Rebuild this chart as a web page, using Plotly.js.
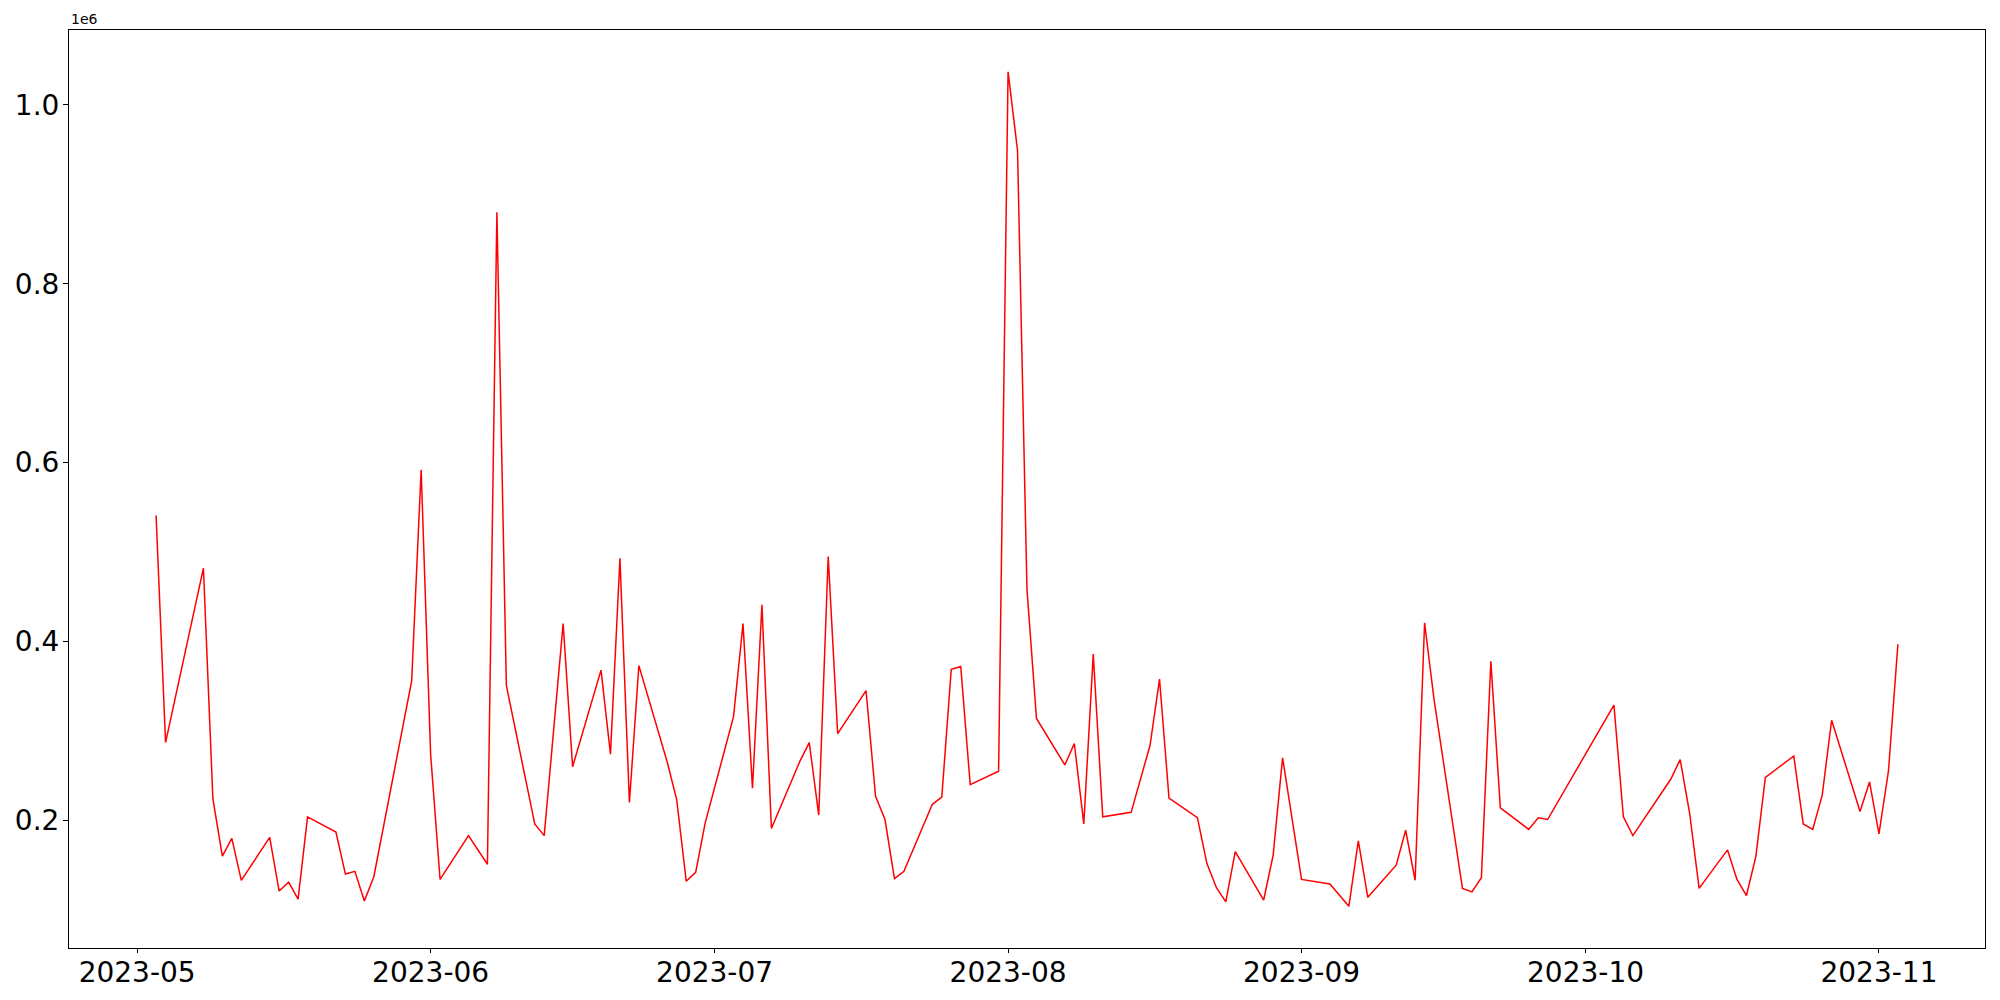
<!DOCTYPE html>
<html>
<head>
<meta charset="utf-8">
<script src="https://cdn.plot.ly/plotly-3.0.1.min.js"></script>
<style>
  html, body { margin: 0; padding: 0; background: #ffffff; }
  #chart { width: 2000px; height: 1000px; }
</style>
</head>
<body>
<div id="chart"></div>
<script>
const dates = [
  '2023-05-03','2023-05-04','2023-05-08','2023-05-09','2023-05-10','2023-05-11','2023-05-12',
  '2023-05-15','2023-05-16','2023-05-17','2023-05-18','2023-05-19',
  '2023-05-22','2023-05-23','2023-05-24','2023-05-25','2023-05-26',
  '2023-05-30','2023-05-31','2023-06-01','2023-06-02',
  '2023-06-05','2023-06-07','2023-06-08','2023-06-09',
  '2023-06-12','2023-06-13','2023-06-15','2023-06-16',
  '2023-06-19','2023-06-20','2023-06-21','2023-06-22','2023-06-23',
  '2023-06-26','2023-06-27','2023-06-28','2023-06-29','2023-06-30',
  '2023-07-03','2023-07-04','2023-07-05','2023-07-06','2023-07-07',
  '2023-07-10','2023-07-11','2023-07-12','2023-07-13','2023-07-14',
  '2023-07-17','2023-07-18','2023-07-19','2023-07-20','2023-07-21',
  '2023-07-24','2023-07-25','2023-07-26','2023-07-27','2023-07-28',
  '2023-07-31','2023-08-01','2023-08-02','2023-08-03','2023-08-04',
  '2023-08-07','2023-08-08','2023-08-09','2023-08-10','2023-08-11',
  '2023-08-14','2023-08-16','2023-08-17','2023-08-18',
  '2023-08-21','2023-08-22','2023-08-23','2023-08-24','2023-08-25',
  '2023-08-28','2023-08-29','2023-08-30','2023-09-01',
  '2023-09-04','2023-09-05','2023-09-06','2023-09-07','2023-09-08',
  '2023-09-11','2023-09-12','2023-09-13','2023-09-14','2023-09-15',
  '2023-09-18','2023-09-19','2023-09-20','2023-09-21','2023-09-22',
  '2023-09-25','2023-09-26','2023-09-27',
  '2023-10-04','2023-10-05','2023-10-06',
  '2023-10-10','2023-10-11','2023-10-12','2023-10-13',
  '2023-10-16','2023-10-17','2023-10-18','2023-10-19','2023-10-20',
  '2023-10-23','2023-10-24','2023-10-25','2023-10-26','2023-10-27',
  '2023-10-30','2023-10-31','2023-11-01','2023-11-02','2023-11-03'
];

const values = [
  541000, 287000, 482000, 224000, 160000, 180000, 133000,
  181000, 121000, 131000, 112000, 204000,
  187000, 140000, 143000, 110000, 137000,
  356000, 592000, 274000, 134000,
  183000, 151000, 880000, 351000,
  196000, 183000, 420000, 260000,
  368000, 274000, 493000, 220000, 373000,
  265000, 223000, 132000, 142000, 197000,
  316000, 420000, 236000, 441000, 191000,
  266000, 287000, 206000, 495000, 297000,
  345000, 227000, 201000, 135000, 143000,
  218000, 226000, 369000, 372000, 240000,
  255000, 1037000, 949000, 458000, 314000,
  262000, 286000, 196000, 386000, 204000,
  209000, 284000, 358000, 225000,
  203000, 152000, 125000, 109000, 165000,
  111000, 161000, 270000, 134000,
  129000, 117000, 104000, 177000, 114000,
  150000, 189000, 133000, 421000, 335000,
  124000, 120000, 136000, 378000, 214000,
  190000, 203000, 201000,
  329000, 204000, 183000,
  246000, 268000, 208000, 124000,
  167000, 134000, 116000, 160000, 248000,
  272000, 196000, 190000, 228000, 312000,
  210000, 243000, 185000, 255000, 397000
];

const xTickVals = ['2023-05-01','2023-06-01','2023-07-01','2023-08-01','2023-09-01','2023-10-01','2023-11-01'];
const xTickText = ['2023-05','2023-06','2023-07','2023-08','2023-09','2023-10','2023-11'];
const yTickVals = [200000, 400000, 600000, 800000, 1000000];
const yTickText = ['0.2','0.4','0.6','0.8','1.0'];

const trace = {
  x: dates,
  y: values,
  type: 'scatter',
  mode: 'lines',
  line: { color: '#ff0000', width: 1.5 },
  hoverinfo: 'x+y'
};

const axisCommon = {
  showline: true,
  linecolor: '#000000',
  linewidth: 1,
  mirror: true,
  showgrid: false,
  zeroline: false,
  ticks: 'outside',
  ticklen: 5,
  tickwidth: 1,
  tickcolor: '#000000',
  tickfont: { family: 'DejaVu Sans', size: 28, color: '#000000' },
  automargin: false
};

const layout = {
  width: 2000,
  height: 1000,
  margin: { l: 69, r: 15, t: 30, b: 52, pad: 0 },
  paper_bgcolor: '#ffffff',
  plot_bgcolor: '#ffffff',
  showlegend: false,
  xaxis: Object.assign({}, axisCommon, {
    type: 'date',
    range: ['2023-04-23 19:12', '2023-11-12 04:48'],
    tickvals: xTickVals,
    ticktext: xTickText,
    ticklen: 4,
    ticklabelstandoff: -5
  }),
  yaxis: Object.assign({}, axisCommon, {
    range: [57350, 1083650],
    tickvals: yTickVals,
    ticktext: yTickText,
    ticklabelstandoff: -2
  }),
  annotations: [{
    text: '1e6',
    xref: 'paper', yref: 'paper',
    x: 0, y: 1,
    xanchor: 'left', yanchor: 'bottom',
    yshift: 1,
    showarrow: false,
    font: { family: 'DejaVu Sans', size: 14, color: '#000000' }
  }]
};

Plotly.newPlot('chart', [trace], layout, { displayModeBar: false, staticPlot: true });
</script>
</body>
</html>
